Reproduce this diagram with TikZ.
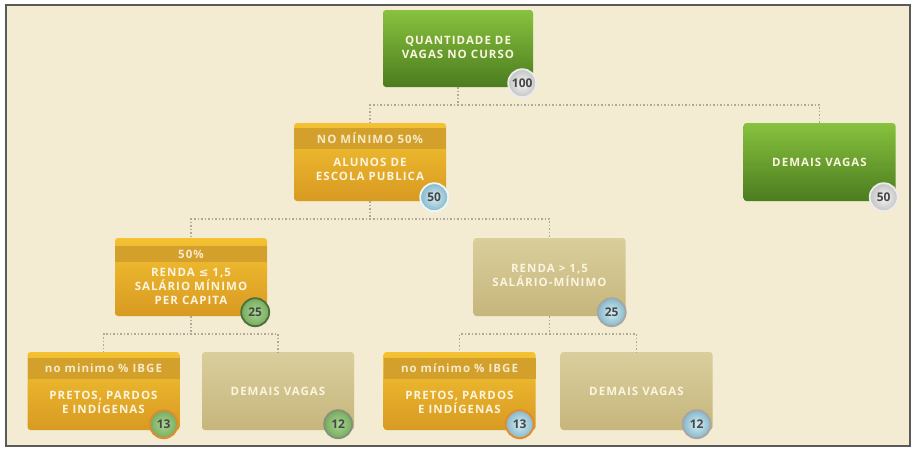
\documentclass[tikz,border=0pt]{standalone}
\usepackage{fontspec}
\usepackage{xcolor}
\usepackage{tikz}
\usetikzlibrary{positioning, calc}
\newfontfamily\caixa{Open Sans}[LetterSpace=9]
\newfontfamily\numfont{Open Sans}
\newfontfamily\simb{DejaVu Sans}
\definecolor{fundo}{HTML}{F3EBD2}
\definecolor{moldura}{HTML}{5A5A5A}
\definecolor{verdeA}{HTML}{88C23E}
\definecolor{verdeB}{HTML}{4B7C1F}
\definecolor{ouroA}{HTML}{F4C232}
\definecolor{ouroB}{HTML}{D89A22}
\definecolor{ouroF}{HTML}{D2A02B}
\definecolor{areiaA}{HTML}{D9CE9C}
\definecolor{areiaB}{HTML}{C6B67C}
\definecolor{letra}{HTML}{FBF4DF}
\definecolor{linha}{HTML}{ADA898}
\definecolor{seloCinza}{HTML}{C4C4C4}
\definecolor{seloAzul}{HTML}{9FD8EC}
\definecolor{seloVerde}{HTML}{8CC96E}
\definecolor{aroLaranja}{HTML}{E38B2C}
\tikzset{
  box/.style={rectangle, rounded corners=3pt, minimum width=152pt,
              minimum height=78pt, inner sep=0pt},
  verde/.style={box, top color=verdeA, bottom color=verdeB},
  ouro/.style={box, top color=ouroA, bottom color=ouroB},
  areia/.style={box, top color=areiaA, bottom color=areiaB},
  txt/.style={font=\caixa\bfseries\fontsize{11.5}{14}\selectfont, text=letra,
              align=center, inner sep=0pt},
  faixa/.style={txt, rectangle, fill=ouroF, minimum width=152pt,
                minimum height=21pt, anchor=north, text=letra!88!ouroF},
  selo/.style={circle, minimum size=28pt, inner sep=0pt, line width=1.8pt,
               font=\numfont\bfseries\fontsize{12}{12}\selectfont, text=black!72},
  cinza/.style={selo, draw=white!85!gray, inner color=white!92!gray, outer color=seloCinza},
  azul/.style={selo, draw=white!80!seloAzul, inner color=white!55!seloAzul,
               outer color=seloAzul!85!black},
  verd/.style={selo, draw=seloVerde!55!black, inner color=white!25!seloVerde,
               outer color=seloVerde!85!black},
  liga/.style={draw=linha, line width=1.5pt, dotted}
}

\begin{document}
\begin{tikzpicture}[x=1pt, y=-1pt]
  \fill[white] (0,0) rectangle (914,450);
  \useasboundingbox (0,0) rectangle (914,450);
  \draw[line width=1.8pt, draw=moldura, fill=fundo] (6,5) rectangle (910,446);

  \node[verde, minimum width=150pt, minimum height=77pt] (topo) at (458,48.5) {};
  \node[txt] (topoT) at ($(topo.center)+(0,-1.5)$) {QUANTIDADE DE\\VAGAS NO CURSO};

  \node[ouro] (esc) at (370,162) {};
  \node[faixa] (escF) at ($(esc.north)+(0,5)$) {NO MÍNIMO 50\%};
  \node[txt] (escT) at ($(esc.center)+(0,7.5)$) {ALUNOS DE\\ESCOLA PUBLICA};

  \node[verde] (dem) at (819.5,162) {};
  \node[txt] (demT) at (dem.center) {DEMAIS VAGAS};

  \node[ouro] (r15) at (191,277) {};
  \node[faixa, minimum height=16pt] (r15F) at ($(r15.north)+(0,8)$) {50\%};
  \node[txt] (r15T) at ($(r15.center)+(0,9.5)$)
    {RENDA {\simb\bfseries ≤} 1,5\\SALÁRIO MÍNIMO\\PER CAPITA};

  \node[areia] (rm) at (549.5,277) {};
  \node[txt] (rmT) at ($(rm.center)+(0,-1.5)$) {RENDA > 1,5\\SALÁRIO-MÍNIMO};

  \node[ouro] (ppi1) at (103.5,391) {};
  \node[faixa] (ppi1F) at ($(ppi1.north)+(0,6)$) {no minimo \% IBGE};
  \node[txt] (ppi1T) at ($(ppi1.center)+(0,11)$) {PRETOS, PARDOS\\E INDÍGENAS};

  \node[areia] (dv1) at (278,391) {};
  \node[txt] (dv1T) at (dv1.center) {DEMAIS VAGAS};

  \node[ouro] (ppi2) at (459.5,391) {};
  \node[faixa] (ppi2F) at ($(ppi2.north)+(0,6)$) {no mínimo \% IBGE};
  \node[txt] (ppi2T) at ($(ppi2.center)+(0,11)$) {PRETOS, PARDOS\\E INDÍGENAS};

  \node[areia] (dv2) at (636.5,391) {};
  \node[txt] (dv2T) at (dv2.center) {DEMAIS VAGAS};

  \draw[liga] (topo.south) -- ++(0,18) -| (esc.north);
  \draw[liga] (topo.south) -- ++(0,18) -| (dem.north);
  \draw[liga] (esc.south) -- ++(0,18) -| (r15.north);
  \draw[liga] (esc.south) -- ++(0,18) -| (rm.north);
  \draw[liga] (r15.south) -- ++(0,18) -| (ppi1.north);
  \draw[liga] (r15.south) -- ++(0,18) -| (dv1.north);
  \draw[liga] (rm.south) -- ++(0,18) -| (ppi2.north);
  \draw[liga] (rm.south) -- ++(0,18) -| (dv2.north);

  \node[cinza] (topoN) at ($(topo.south east)+(-11,-4)$) {100};
  \node[azul] (escN) at ($(esc.south east)+(-12,-4)$) {50};
  \node[cinza] (demN) at ($(dem.south east)+(-12,-4)$) {50};
  \node[verd] (r15N) at ($(r15.south east)+(-12,-4)$) {25};
  \node[azul, draw=gray!70] (rmN) at ($(rm.south east)+(-14,-4)$) {25};
  \node[verd, draw=aroLaranja] (ppi1N) at ($(ppi1.south east)+(-16,-6)$) {13};
  \node[verd, draw=gray!75!seloVerde] (dv1N) at ($(dv1.south east)+(-16,-6)$) {12};
  \node[azul, draw=aroLaranja] (ppi2N) at ($(ppi2.south east)+(-16,-6)$) {13};
  \node[azul, draw=gray!70] (dv2N) at ($(dv2.south east)+(-16,-6)$) {12};
\end{tikzpicture}
\end{document}
